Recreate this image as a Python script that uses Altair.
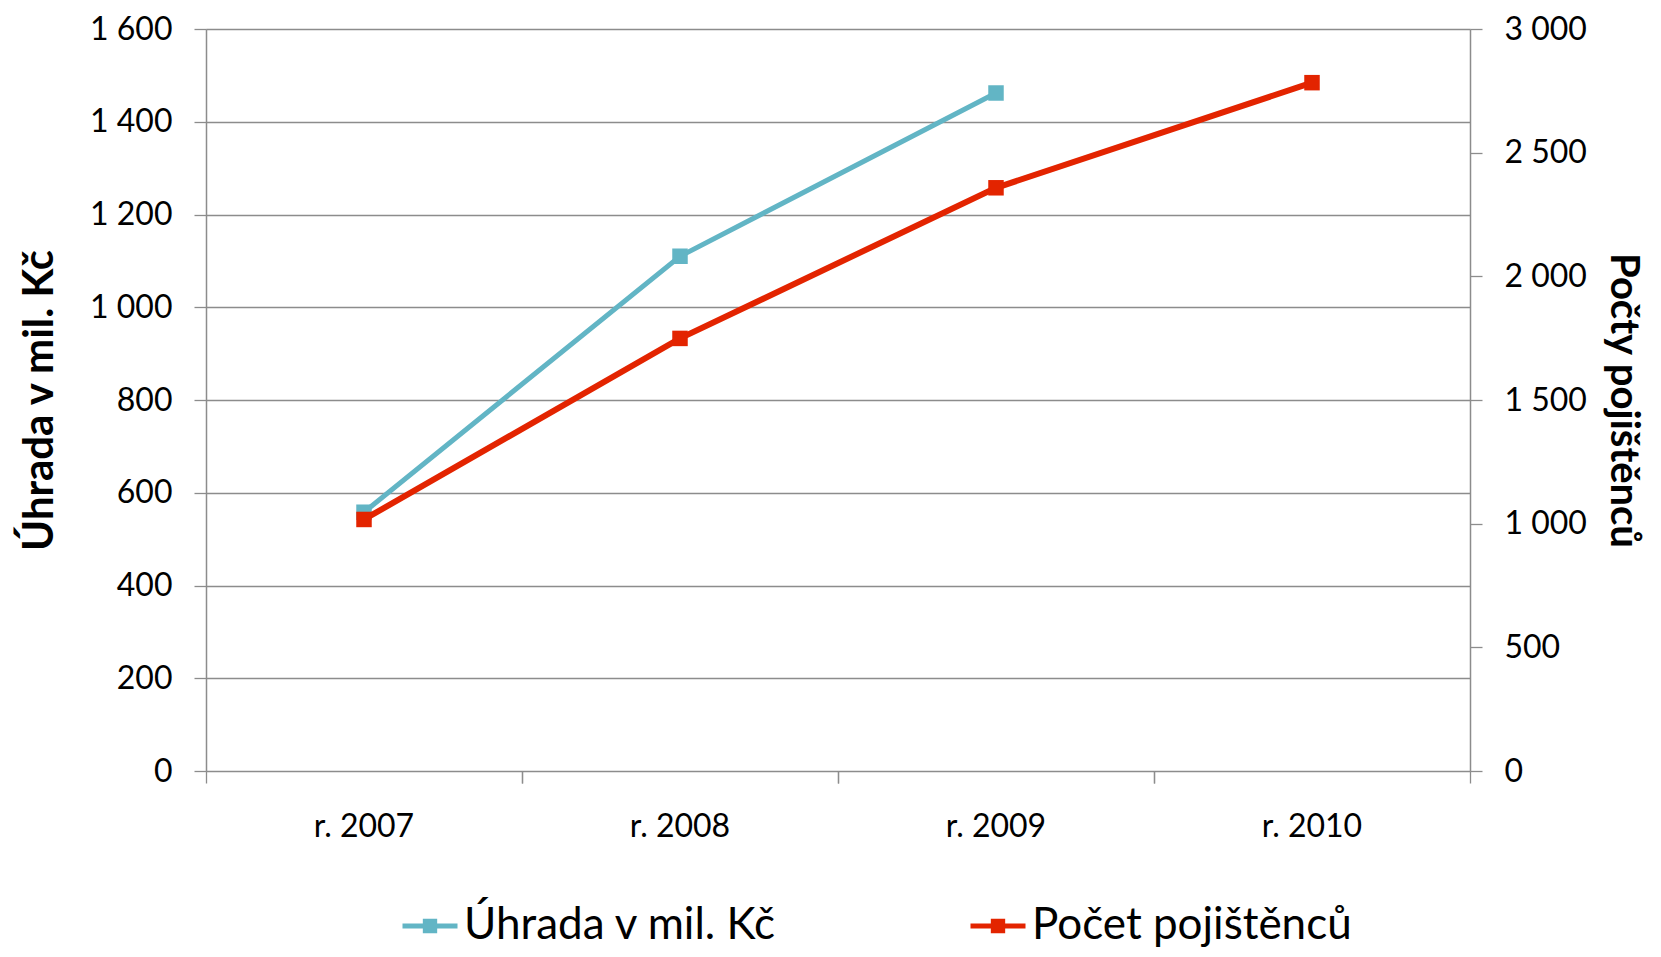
import altair as alt
import pandas as pd

years = ["r. 2007", "r. 2008", "r. 2009", "r. 2010"]
uhrada_years = ["r. 2007", "r. 2008", "r. 2009"]
uhrada = [558, 1110, 1462]
pocet = [1017, 1749, 2358, 2783]
series_names = ["Úhrada v mil. Kč", "Počet pojištěnců"]
colors = ["#62B5C5", "#E32400"]

df_u = pd.DataFrame({"year": uhrada_years, "value": uhrada, "series": series_names[0]})
df_p = pd.DataFrame({"year": years, "value": pocet, "series": series_names[1]})

FONT = "Lato"
GRID = "#8C8C8C"
num_expr = "replace(format(datum.value, ','), ',', ' ')"

color_scale = alt.Scale(domain=series_names, range=colors)
x_scale = alt.Scale(type="band", domain=years, paddingInner=0, paddingOuter=0)

legend_path = "M-1,0H1M-0.17,-0.17H0.17V0.17H-0.17ZM-0.08,-0.08H0.08V0.08H-0.08Z"
legend = alt.Legend(
    title=None, orient="none", legendX=194, legendY=867, direction="horizontal",
    symbolType=legend_path, symbolSize=3025, symbolStrokeWidth=5,
    labelFont=FONT, labelFontSize=44, labelColor="#000000", labelOffset=4,
    columnPadding=182, padding=0, labelLimit=600,
)

label_axis = alt.Axis(
    title=None, ticks=False, tickSize=0, domain=False, grid=False,
    labelFont=FONT, labelFontSize=32, labelColor="#000000", labelPadding=40,
    labelAngle=0, orient="bottom",
)
tick_axis0 = alt.Axis(
    title=None, labels=False, domain=False, grid=False, ticks=True,
    tickSize=12, tickColor=GRID, tickWidth=1.3, bandPosition=0, orient="bottom",
)
tick_axis1 = alt.Axis(
    title=None, labels=False, domain=False, grid=False, ticks=True,
    tickSize=12, tickColor=GRID, tickWidth=1.3, bandPosition=1, orient="bottom",
)

left_axis = alt.Axis(
    title="Úhrada v mil. Kč", orient="left", values=[0, 200, 400, 600, 800, 1000, 1200, 1400, 1600],
    labelExpr=num_expr, labelFont=FONT, labelFontSize=32, labelColor="#000000",
    labelPadding=22, tickSize=12, tickColor=GRID, tickWidth=1.3,
    domainColor=GRID, domainWidth=1.5, grid=True, gridColor=GRID, gridWidth=1.3,
    titleFont=FONT, titleFontSize=42, titleFontWeight="bold", titleColor="#000000",
    titleAngle=-90, titleBaseline="middle", titleAlign="center", titleX=-167, titleY=371,
)
right_axis = alt.Axis(
    title="Počty pojištěnců", orient="right", values=[0, 500, 1000, 1500, 2000, 2500, 3000],
    labelExpr=num_expr, labelFont=FONT, labelFontSize=32, labelColor="#000000",
    labelPadding=22, tickSize=12, tickColor=GRID, tickWidth=1.3,
    domainColor=GRID, domainWidth=1.5, grid=False,
    titleFont=FONT, titleFontSize=40, titleFontWeight="bold", titleColor="#000000",
    titleAngle=90, titleBaseline="middle", titleAlign="center", titleX=152, titleY=371,
)

teal = alt.Chart(df_u).mark_line(
    strokeWidth=5, point=alt.OverlayMarkDef(shape="square", size=240, filled=True, opacity=1)
).encode(
    x=alt.X("year:N", scale=x_scale, sort=years, axis=label_axis),
    y=alt.Y("value:Q", scale=alt.Scale(domain=[0, 1600], nice=False), axis=left_axis),
    color=alt.Color("series:N", scale=color_scale, legend=legend),
)

red = alt.Chart(df_p).mark_line(
    strokeWidth=6, point=alt.OverlayMarkDef(shape="square", size=240, filled=True, opacity=1)
).encode(
    x=alt.X("year:N", scale=x_scale, sort=years, axis=tick_axis0),
    y=alt.Y("value:Q", scale=alt.Scale(domain=[0, 3000], nice=False), axis=right_axis),
    color=alt.Color("series:N", scale=color_scale, legend=legend),
)

end_ticks = alt.Chart(df_p).mark_point(opacity=0).encode(
    x=alt.X("year:N", scale=x_scale, sort=years, axis=tick_axis1),
)

chart = alt.layer(teal, red, end_ticks).resolve_scale(
    y="independent"
).resolve_axis(
    x="independent"
).properties(
    width=1264, height=742,
    autosize=alt.AutoSizeParams(type="none"),
    padding={"left": 198, "top": 21, "right": 183, "bottom": 178},
).configure_view(stroke=None).configure(background="white")

chart.save("out.html", embed_options={"renderer": "svg", "actions": False})
